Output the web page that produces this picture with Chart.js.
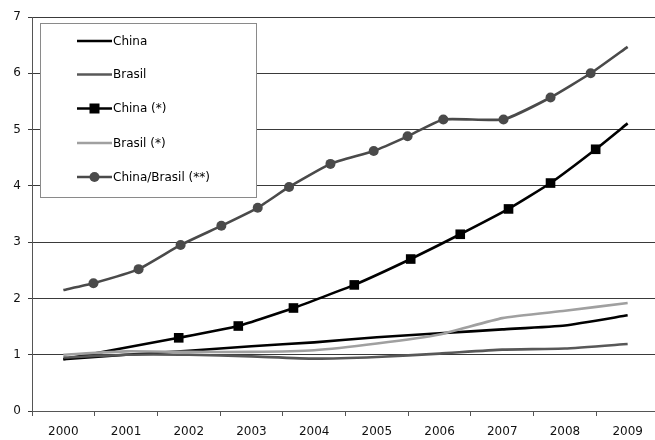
<!DOCTYPE html>
<html>
<head>
<meta charset="utf-8">
<script src="https://cdn.jsdelivr.net/npm/chart.js@4/dist/chart.umd.min.js"></script>
<style>
html, body { margin: 0; padding: 0; overflow: hidden; background: #fff; }
#wrap { width: 660px; height: 440px; position: relative; }
</style>
</head>
<body>
<div id="wrap"><canvas id="c"></canvas></div>
<script>
// ---- data ----
const yearLabels = ['2000','2001','2002','2003','2004','2005','2006','2007','2008','2009'];
const yTicks = [0,1,2,3,4,5,6,7];

const chinaYears  = [2000,2001,2002,2003,2004,2005,2006,2007,2008,2009];
const chinaValues = [0.92,1.00,1.07,1.15,1.22,1.31,1.38,1.45,1.52,1.70];

const brasilYears  = [2000,2001,2002,2003,2004,2005,2006,2007,2008,2009];
const brasilValues = [0.95,1.00,1.00,0.97,0.93,0.96,1.02,1.09,1.11,1.19];

const chinaStarYears  = [2000,2001.84,2002.79,2003.67,2004.64,2005.54,2006.33,2007.10,2007.77,2008.49,2009];
const chinaStarValues = [0.92,1.30,1.51,1.83,2.24,2.70,3.14,3.59,4.05,4.65,5.11];

const brasilStarYears  = [2000,2001,2002,2003,2004,2005,2006,2007,2008,2009];
const brasilStarValues = [1.00,1.06,1.05,1.05,1.08,1.20,1.36,1.65,1.78,1.92];

const ratioYears  = [2000,2000.48,2001.2,2001.87,2002.52,2003.1,2003.6,2004.26,2004.95,2005.49,2006.06,2007.02,2007.77,2008.41,2009];
const ratioValues = [2.15,2.27,2.52,2.95,3.29,3.61,3.98,4.39,4.62,4.88,5.18,5.18,5.57,6.00,6.47];

const seriesNames = ['China','Brasil','China (*)','Brasil (*)','China/Brasil (**)'];

// ---- build ----
const FONT = '"DejaVu Sans", "Liberation Sans", Arial, sans-serif';
const pts = (xs, ys) => xs.map((x, i) => ({ x: x, y: ys[i] }));

const styles = [
  { color: '#000000', marker: null,     r: 0 },
  { color: '#585858', marker: null,     r: 0 },
  { color: '#000000', marker: 'rect',   r: 6.8 },
  { color: '#a0a0a0', marker: null,     r: 0 },
  { color: '#4a4a4a', marker: 'circle', r: 5 }
];

const dataPairs = [
  [chinaYears, chinaValues],
  [brasilYears, brasilValues],
  [chinaStarYears, chinaStarValues],
  [brasilStarYears, brasilStarValues],
  [ratioYears, ratioValues]
];

const drawOrder = [1, 3, 0, 2, 4];
const datasets = drawOrder.map(i => ({
  label: seriesNames[i],
  data: pts(dataPairs[i][0], dataPairs[i][1]),
  xAxisID: 'xd',
  borderColor: styles[i].color,
  backgroundColor: styles[i].color,
  borderWidth: 2.6,
  tension: 0.15,
  pointStyle: styles[i].marker || 'circle',
  pointRadius: (ctx) => {
    const n = ctx.dataset.data.length;
    return (ctx.dataIndex === 0 || ctx.dataIndex === n - 1) ? 0 : styles[i].r;
  },
  pointHoverRadius: 0,
  pointBorderWidth: 0,
  fill: false
}));

const legendPlugin = {
  id: 'boxLegend',
  afterDraw(chart) {
    const c = chart.ctx;
    c.save();
    const bx = 40.5, by = 23.5, bw = 216, bh = 174;
    c.fillStyle = '#ffffff';
    c.fillRect(bx, by, bw, bh);
    c.strokeStyle = '#8a8a8a';
    c.lineWidth = 1;
    c.strokeRect(bx, by, bw, bh);
    const rows = [41, 74.5, 108.5, 143, 177];
    c.font = '12px ' + FONT;
    c.textBaseline = 'middle';
    c.textAlign = 'left';
    rows.forEach((y, k) => {
      const st = styles[k];
      c.strokeStyle = st.color;
      c.lineWidth = 2.6;
      c.beginPath();
      c.moveTo(77, y);
      c.lineTo(112, y);
      c.stroke();
      c.fillStyle = st.color;
      if (st.marker === 'rect') {
        c.fillRect(94.5 - 5, y - 5, 10, 10);
      } else if (st.marker === 'circle') {
        c.beginPath();
        c.arc(94.5, y, 5, 0, Math.PI * 2);
        c.fill();
      }
      c.fillStyle = '#000';
      c.fillText(seriesNames[k], 113, y + 0.5);
    });
    c.restore();
  }
};

new Chart(document.getElementById('c'), {
  type: 'line',
  data: { labels: yearLabels, datasets: datasets },
  options: {
    responsive: true,
    maintainAspectRatio: false,
    animation: false,
    events: [],
    layout: { padding: { top: 17, right: 1, left: 0, bottom: 0 } },
    plugins: { legend: { display: false }, tooltip: { enabled: false } },
    scales: {
      x: {
        type: 'category',
        labels: yearLabels,
        offset: true,
        grid: { offset: true, drawOnChartArea: false, drawTicks: true, tickLength: 5, color: '#555' },
        border: { display: true, color: '#555', width: 1 },
        ticks: { color: '#111', font: { size: 12, family: FONT }, padding: 9, maxRotation: 0, autoSkip: false },
        afterFit(s) { s.height = 29; }
      },
      xd: {
        type: 'linear',
        display: false,
        min: 1999.5,
        max: 2009.5
      },
      y: {
        min: 0,
        max: 7,
        afterBuildTicks(s) { s.ticks = yTicks.map(v => ({ value: v })); },
        grid: { color: '#3a3a3a', lineWidth: 1, tickLength: 4 },
        border: { display: true, color: '#555', width: 1 },
        ticks: { color: '#111', font: { size: 12, family: FONT }, padding: 7 },
        afterFit(s) { s.width = 32; }
      }
    }
  },
  plugins: [legendPlugin]
});
</script>
</body>
</html>
